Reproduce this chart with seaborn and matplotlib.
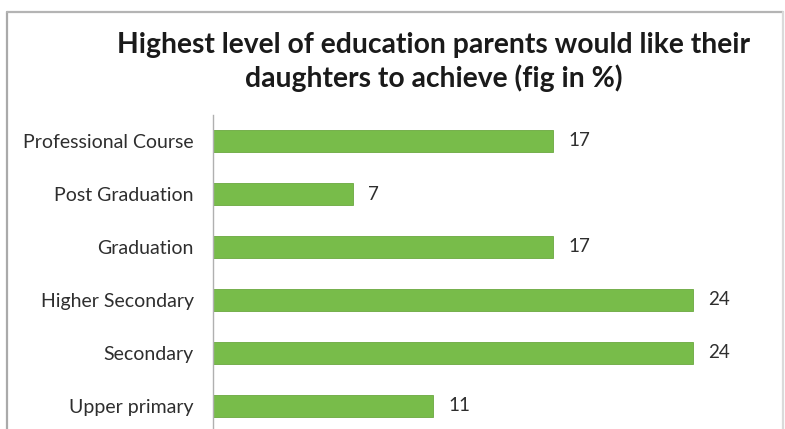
import matplotlib
matplotlib.use("Agg")
import matplotlib.pyplot as plt
import seaborn as sns
import pandas as pd
from matplotlib.lines import Line2D

categories = ["Professional Course", "Post Graduation", "Graduation",
              "Higher Secondary", "Secondary", "Upper primary"]
values = [17, 7, 17, 24, 24, 11]
title = "Highest level of education parents would like their\ndaughters to achieve (fig in %)"

df = pd.DataFrame({"level": categories, "pct": values})

sns.set_theme(style="white")
plt.rcParams["font.family"] = ["Lato", "DejaVu Sans"]

W, H = 785, 429
fig = plt.figure(figsize=(W / 100, H / 100), dpi=100)
fig.patch.set_facecolor("white")

# outer chart frame (runs past the bottom edge of the canvas)
fx0, fx1, fy_top = 7 / W, 783 / W, 1 - 12 / H
frame = [
    ([fx0, fx0], [-0.05, fy_top], "#aaaaaa"),
    ([fx0, fx1], [fy_top, fy_top], "#b4b4b4"),
    ([fx1, fx1], [-0.05, fy_top], "#dadada"),
]
for xs, ys, c in frame:
    fig.add_artist(Line2D(xs, ys, transform=fig.transFigure, color=c,
                          linewidth=1.6, zorder=0))

xmax = 27.0
left = 213 / W
width = 20 * xmax / W
top = 1 - 114.5 / H
bottom = 1 - 432.5 / H
ax = fig.add_axes([left, bottom, width, top - bottom])

sns.barplot(data=df, y="level", x="pct", orient="h", color="#78BC4A",
            width=0.42, saturation=1, ax=ax, edgecolor="#6aa83f", linewidth=0.6)

ax.set_xlim(0, xmax)
ax.set_xlabel("")
ax.set_ylabel("")
ax.set_xticks([])
for s in ["top", "right", "bottom"]:
    ax.spines[s].set_visible(False)
ax.spines["left"].set_color("#b0b0b0")
ax.spines["left"].set_linewidth(1.0)
ax.tick_params(axis="y", length=0, pad=14, labelsize=14, labelcolor="#2e2e2e")
ax.patch.set_alpha(0)

for i, v in enumerate(values):
    ax.text(v + 0.75, i, f"{v}", va="center", ha="left", fontsize=13.5,
            color="#2e2e2e")

fig.text(433.5 / W, 1 - 62 / H, title, ha="center", va="center",
         fontsize=20.3, fontweight="bold", color="#1a1a1a", linespacing=1.25)

fig.savefig("out.png", dpi=100)
